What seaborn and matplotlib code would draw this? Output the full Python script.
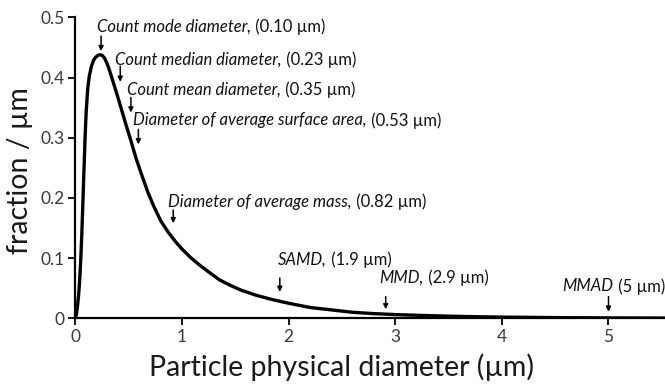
import matplotlib
matplotlib.use("Agg")
import matplotlib.pyplot as plt
import seaborn as sns
import pandas as pd

# ---- data ----
curve_x = [0, 0.01, 0.02, 0.03, 0.04, 0.05, 0.06, 0.07, 0.08, 0.09, 0.10, 0.115, 0.13,
           0.15, 0.17, 0.19, 0.21, 0.23, 0.25, 0.27, 0.29, 0.31, 0.33, 0.36, 0.40, 0.44,
           0.48, 0.52, 0.57, 0.62, 0.68, 0.74, 0.80, 0.87, 0.94, 1.0, 1.08, 1.16, 1.25,
           1.35, 1.45, 1.55, 1.7, 1.85, 2.0, 2.2, 2.4, 2.6, 2.8, 3.0, 3.25, 3.5, 3.75,
           4.0, 4.5, 5.0, 5.53]
curve_y = [0, 0.008, 0.022, 0.040, 0.065, 0.100, 0.143, 0.195, 0.248, 0.300, 0.342, 0.382,
           0.403, 0.419, 0.429, 0.434, 0.437, 0.438, 0.437, 0.433, 0.426, 0.417, 0.406,
           0.389, 0.366, 0.342, 0.318, 0.295, 0.265, 0.239, 0.209, 0.184, 0.162, 0.143,
           0.127, 0.115, 0.101, 0.089, 0.077, 0.064, 0.055, 0.047, 0.038, 0.031, 0.025,
           0.018, 0.014, 0.010, 0.0078, 0.0062, 0.0048, 0.0036, 0.0027, 0.002, 0.0012,
           0.0007, 0.0004]

ann_names = ["Count mode diameter,", "Count median diameter,", "Count mean diameter,",
             "Diameter of average surface area,", "Diameter of average mass,",
             "SAMD,", "MMD,", "MMAD"]
ann_values = ["(0.10 µm)", "(0.23 µm)", "(0.35 µm)", "(0.53 µm)", "(0.82 µm)",
              "(1.9 µm)", "(2.9 µm)", "(5 µm)"]

x_ticks = [0, 1, 2, 3, 4, 5]
y_ticks = [0, 0.1, 0.2, 0.3, 0.4, 0.5]
y_tick_labels = ["0", "0.1", "0.2", "0.3", "0.4", "0.5"]

# ---- layout (text left x, text centre y, arrow x, arrow top y, arrow tip y) ----
ann_layout = [
    (0.204, 0.484, 0.240, 0.469, 0.444),
    (0.370, 0.430, 0.420, 0.419, 0.393),
    (0.480, 0.380, 0.520, 0.367, 0.342),
    (0.540, 0.329, 0.590, 0.314, 0.289),
    (0.870, 0.194, 0.917, 0.180, 0.158),
    (1.900, 0.097, 1.917, 0.067, 0.044),
    (2.850, 0.067, 2.910, 0.036, 0.015),
    (4.570, 0.053, 5.000, 0.036, 0.011),
]

sns.set_theme(style="ticks")
plt.rcParams["font.family"] = ["Lato", "DejaVu Sans"]

fig = plt.figure(figsize=(6.65, 3.85), dpi=100)
ax = fig.add_axes([0.1135, 0.1732, 0.8865, 0.7815])

df = pd.DataFrame({"d": curve_x, "f": curve_y})
sns.lineplot(data=df, x="d", y="f", ax=ax, color="black", lw=2.4, sort=False,
             estimator=None)
for ln in ax.lines:
    ln.set_solid_joinstyle("round")

ax.set_xlim(0, 5.53)
ax.set_ylim(0, 0.5)
ax.set_xticks(x_ticks)
ax.set_xticklabels([str(t) for t in x_ticks])
ax.set_yticks(y_ticks)
ax.set_yticklabels(y_tick_labels)
ax.tick_params(axis="both", labelsize=12.5, colors="black", labelcolor="#3a3a3a",
               length=5, width=1.3, direction="out", pad=3)
for s in ["top", "right"]:
    ax.spines[s].set_visible(False)
for s in ["left", "bottom"]:
    ax.spines[s].set_color("black")
    ax.spines[s].set_linewidth(1.6)

ax.set_xlabel("Particle physical diameter (µm)", fontsize=20.5, color="#1a1a1a")
ax.set_ylabel("fraction / µm", fontsize=20.5, color="#1a1a1a")
ax.xaxis.set_label_coords(0.452, -0.115)
ax.yaxis.set_label_coords(-0.072, 0.49)

for name, val, (tx, ty, axx, ay0, ay1) in zip(ann_names, ann_values, ann_layout):
    t1 = ax.text(tx, ty, name, fontsize=12, style="italic", color="#111111",
                 ha="left", va="center")
    ax.annotate(" " + val, xy=(1, 0.5), xycoords=t1, fontsize=12, color="#111111",
                ha="left", va="center")
    ax.annotate("", xy=(axx, ay1), xytext=(axx, ay0),
                arrowprops=dict(arrowstyle="-|>", color="black", lw=1.1,
                                mutation_scale=7, shrinkA=0, shrinkB=0))

fig.savefig("out.png", dpi=100)
